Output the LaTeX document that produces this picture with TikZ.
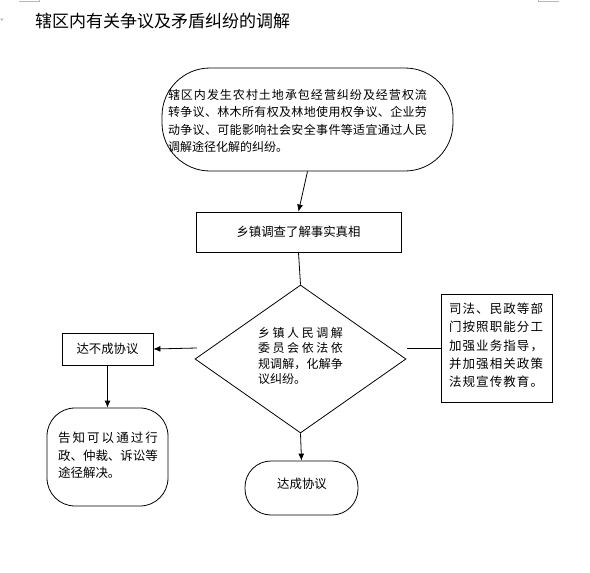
\documentclass[tikz,border=0pt]{standalone}
\usepackage{fontspec}
\setmainfont{Noto Sans CJK SC}
\usetikzlibrary{shapes.geometric,arrows.meta}
\def\spreadaux#1{\ifx#1\relax\unskip\else#1\hfil\expandafter\spreadaux\fi}
\newcommand\spreadline[2]{\makebox[#1][s]{\spreadaux#2\relax}}
\begin{document}
\begin{tikzpicture}[x=1pt,y=-1pt,
  box/.style={draw=black, line width=0.8pt, inner sep=0pt},
  arr/.style={line width=0.8pt, -{Latex[length=7pt,width=6pt]}},
  conn/.style={line width=0.8pt},
  txt/.style={inner sep=0pt, align=left, font=\fontsize{12}{17.3}\selectfont},
  cornermark/.style={gray!55, line width=0.6pt}]
\useasboundingbox (0,0) rectangle (590,573);
\fill[white] (0,0) rectangle (590,573);
% page corner marks
\draw[cornermark] (19,1.7) -- (39.5,1.7) -- (39.5,0);
\draw[cornermark] (538,0) -- (538,1.3) -- (559,1.3);
\fill[gray!60] (0,18.5) -- (3.6,18.5) -- (1.8,20.8) -- cycle;
% title
\node[inner sep=0pt, anchor=west, font=\fontsize{17}{20}\selectfont] (title) at (35,21) {辖区内有关争议及矛盾纠纷的调解};
% shapes
\node[box, rounded corners=48pt, minimum width=291pt, minimum height=103pt] (top) at (307.5,119.5) {};
\node[txt] (toptext) at (297.5,121) {\spreadline{259pt}{辖区内发生农村土地承包经营纠纷及经营权流}\\
\spreadline{259pt}{转争议、林木所有权及林地使用权争议、企业劳}\\
\spreadline{259pt}{动争议、可能影响社会安全事件等适宜通过人民}\\
调解途径化解的纠纷。};
\node[box, minimum width=205pt, minimum height=40pt, font=\fontsize{12.4}{15}\selectfont] (survey) at (298.5,232) {乡镇调查了解事实真相};
\node[box, shape=diamond, minimum width=211pt, minimum height=148pt] (dia) at (300.5,359) {};
\node[txt, font=\fontsize{12}{15.3}\selectfont] (diatext) at (300.5,356) {\spreadline{85pt}{乡镇人民调解}\\
\spreadline{85pt}{委员会依法依}\\
\spreadline{85pt}{规调解，化解争}\\
议纠纷。};
\node[box, minimum width=111pt, minimum height=108pt] (advice) at (496.5,348) {};
\node[txt, font=\fontsize{12.5}{18.3}\selectfont] (advicetext) at (496,345.5) {\spreadline{94pt}{司法、民政等部}\\
\spreadline{94pt}{门按照职能分工}\\
\spreadline{94pt}{加强业务指导，}\\
\spreadline{94pt}{并加强相关政策}\\
\spreadline{94pt}{法规宣传教育。}};
\node[box, minimum width=91pt, minimum height=32pt, font=\fontsize{12.4}{15}\selectfont] (nodeal) at (107.5,349) {达不成协议};
\node[box, rounded corners=28pt, minimum width=121pt, minimum height=98pt] (other) at (107.5,457) {};
\node[txt, font=\fontsize{12.5}{17.5}\selectfont] (othertext) at (108,455.5) {\spreadline{100pt}{告知可以通过行}\\
\spreadline{100pt}{政、仲裁、诉讼等}\\
途径解决。};
\node[box, rounded corners=26pt, minimum width=113pt, minimum height=54pt] (deal) at (301.5,488) {};
\node[txt, font=\fontsize{12.4}{15}\selectfont] (dealtext) at (302,484) {达成协议};
% connectors
\coordinate (lj) at (197,348);
\coordinate (rj) at (407,348);
\draw[arr] (top.south) -- (survey.north);
\draw[conn] (survey.south) -- (dia.north);
\draw[arr] (dia.south) -- (deal.north);
\draw[arr] (lj) -- (nodeal.east);
\draw[conn] (advice.west) -- (rj);
\draw[arr] (nodeal.south) -- (other.north);
\end{tikzpicture}
\end{document}
